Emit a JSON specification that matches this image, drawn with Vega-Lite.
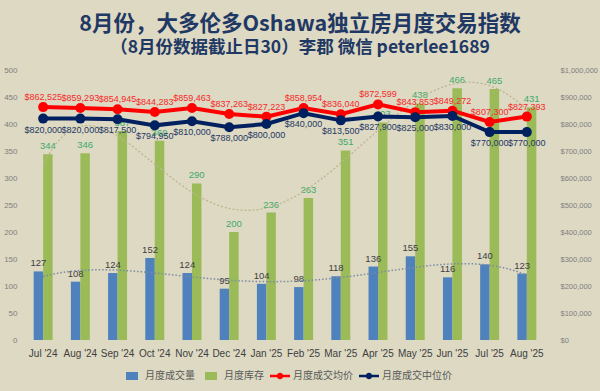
{
  "$schema": "https://vega.github.io/schema/vega-lite/v6.json",
  "width": 522,
  "height": 270,
  "autosize": {"type": "none"},
  "padding": {"left": 24, "top": 70, "right": 54, "bottom": 51},
  "background": "#DDD9C3",
  "title": {
    "text": "8月份，大多伦多Oshawa独立房月度交易指数",
    "subtitle": "（8月份数据截止日30）李郡 微信 peterlee1689",
    "anchor": "middle",
    "dx": 15,
    "offset": 10,
    "font": "Noto Sans CJK SC",
    "fontSize": 21.5,
    "fontWeight": "bold",
    "color": "#1F3864",
    "subtitleFont": "Noto Sans CJK SC",
    "subtitleFontSize": 17.5,
    "subtitleFontWeight": "bold",
    "subtitleColor": "#1F3864",
    "subtitlePadding": 3
  },
  "config": {
    "view": {"stroke": null},
    "axis": {"grid": false, "domain": false, "ticks": false, "title": null, "labelOverlap": false}
  },
  "data": {
    "values": [
      {"month": "Jul '24", "i": 0, "sales": 127, "inventory": 344, "avg": 862525, "median": 820000},
      {"month": "Aug '24", "i": 1, "sales": 108, "inventory": 346, "avg": 859293, "median": 820000},
      {"month": "Sep '24", "i": 2, "sales": 124, "inventory": 387, "avg": 854945, "median": 817500},
      {"month": "Oct '24", "i": 3, "sales": 152, "inventory": 369, "avg": 844283, "median": 794950},
      {"month": "Nov '24", "i": 4, "sales": 124, "inventory": 290, "avg": 859463, "median": 810000},
      {"month": "Dec '24", "i": 5, "sales": 95, "inventory": 200, "avg": 837263, "median": 788000},
      {"month": "Jan '25", "i": 6, "sales": 104, "inventory": 236, "avg": 827223, "median": 800000},
      {"month": "Feb '25", "i": 7, "sales": 98, "inventory": 263, "avg": 858954, "median": 840000},
      {"month": "Mar '25", "i": 8, "sales": 118, "inventory": 351, "avg": 836040, "median": 813500},
      {"month": "Apr '25", "i": 9, "sales": 136, "inventory": 403, "avg": 872599, "median": 827900},
      {"month": "May '25", "i": 10, "sales": 155, "inventory": 438, "avg": 843853, "median": 825000},
      {"month": "Jun '25", "i": 11, "sales": 116, "inventory": 466, "avg": 849272, "median": 830000},
      {"month": "Jul '25", "i": 12, "sales": 140, "inventory": 465, "avg": 807300, "median": 770000},
      {"month": "Aug '25", "i": 13, "sales": 123, "inventory": 431, "avg": 827393, "median": 770000}
    ]
  },
  "resolve": {"scale": {"x": "independent", "y": "independent"}},
  "layer": [
    {
      "transform": [{"fold": ["sales", "inventory"], "as": ["key", "value"]}],
      "encoding": {
        "x": {
          "field": "month", "type": "nominal", "sort": null,
          "scale": {"type": "band", "paddingInner": 0.49, "paddingOuter": 0.26},
          "axis": {"labelAngle": 0, "labelFont": "Liberation Sans", "labelFontSize": 10, "labelColor": "#404040", "labelPadding": 8}
        },
        "xOffset": {"field": "key", "type": "nominal", "sort": ["sales", "inventory"], "scale": {"paddingInner": 0, "paddingOuter": 0}},
        "y": {
          "field": "value", "type": "quantitative",
          "scale": {"domain": [0, 500], "nice": false},
          "axis": {"values": [0, 50, 100, 150, 200, 250, 300, 350, 400, 450, 500], "labelFont": "Liberation Sans", "labelFontSize": 8, "labelColor": "#7F7F7F", "labelPadding": 7}
        }
      },
      "layer": [
        {
          "mark": {"type": "bar"},
          "encoding": {
            "color": {
              "field": "key", "type": "nominal",
              "scale": {"domain": ["sales", "inventory", "avg", "median"], "range": ["#4F81BD", "#9BBB59", "#FF0000", "#002060"]},
              "legend": {
                "title": null, "orient": "none", "legendX": 98, "legendY": 296, "direction": "horizontal", "columns": 4,
                "symbolSize": 400, "labelFont": "Noto Sans CJK SC", "labelFontSize": 10, "labelColor": "#595959",
                "columnPadding": 6, "labelOffset": 3,
                "labelExpr": "datum.label === 'sales' ? '月度成交量' : datum.label === 'inventory' ? '月度库存' : datum.label === 'avg' ? '月度成交均价' : '月度成交中位价'",
                "encode": {"symbols": {"update": {
                  "shape": {"signal": "datum.value === 'avg' || datum.value === 'median' ? 'M-1,-0.13H1V0.13H-1Z M-0.33,0A0.33,0.33 0 1 1 0.33,0A0.33,0.33 0 1 1 -0.33,0Z' : 'M-0.6,-0.4H0.6V0.4H-0.6Z'"},
                  "fill": {"signal": "scale('color', datum.value)"},
                  "strokeWidth": {"value": 0},
                  "opacity": {"value": 1}
                }}}
              }
            }
          }
        },
        {
          "mark": {"type": "text", "dy": -8, "font": "Liberation Sans", "fontSize": 9.5, "baseline": "middle"},
          "encoding": {
            "text": {"field": "value", "type": "quantitative"},
            "color": {"condition": {"test": "datum.key === 'sales'", "value": "#404040"}, "value": "#3DAA6A"}
          }
        }
      ]
    },
    {
      "encoding": {
        "x": {"field": "i", "type": "quantitative", "scale": {"domain": [-0.5155, 13.5145], "nice": false, "zero": false}, "axis": null}
      },
      "layer": [
        {
          "transform": [{"regression": "inventory", "on": "i", "method": "poly", "order": 5}],
          "mark": {"type": "line", "strokeDash": [2, 2], "color": "#BDB68C", "strokeWidth": 1.3},
          "encoding": {"y": {"field": "inventory", "type": "quantitative", "scale": {"domain": [0, 500], "nice": false}, "axis": null}}
        },
        {
          "transform": [{"regression": "sales", "on": "i", "method": "poly", "order": 5}],
          "mark": {"type": "line", "strokeDash": [1.5, 2], "color": "#7A8BA3", "strokeWidth": 1.5},
          "encoding": {"y": {"field": "sales", "type": "quantitative", "scale": {"domain": [0, 500], "nice": false}, "axis": null}}
        }
      ]
    },
    {
      "encoding": {
        "x": {
          "field": "month", "type": "nominal", "sort": null,
          "scale": {"type": "band", "paddingInner": 0.49, "paddingOuter": 0.26},
          "axis": null
        }
      },
      "layer": [
        {
          "transform": [{"fold": ["avg", "median"], "as": ["key", "value"]}],
          "mark": {"type": "line", "strokeWidth": 4},
          "encoding": {
            "y": {
              "field": "value", "type": "quantitative",
              "scale": {"domain": [0, 1000000], "nice": false},
              "axis": {"orient": "right", "values": [0, 100000, 200000, 300000, 400000, 500000, 600000, 700000, 800000, 900000, 1000000], "format": "$,.0f", "labelFont": "Liberation Sans", "labelFontSize": 7.5, "labelColor": "#7F7F7F", "labelPadding": 14, "labelOverlap": false}
            },
            "color": {
              "field": "key", "type": "nominal",
              "scale": {"domain": ["sales", "inventory", "avg", "median"], "range": ["#4F81BD", "#9BBB59", "#FF0000", "#002060"]},
              "legend": {
                "title": null, "orient": "none", "legendX": 98, "legendY": 296, "direction": "horizontal", "columns": 4,
                "symbolSize": 400, "labelFont": "Noto Sans CJK SC", "labelFontSize": 10, "labelColor": "#595959",
                "columnPadding": 6, "labelOffset": 3,
                "labelExpr": "datum.label === 'sales' ? '月度成交量' : datum.label === 'inventory' ? '月度库存' : datum.label === 'avg' ? '月度成交均价' : '月度成交中位价'",
                "encode": {"symbols": {"update": {
                  "shape": {"signal": "datum.value === 'avg' || datum.value === 'median' ? 'M-1,-0.13H1V0.13H-1Z M-0.33,0A0.33,0.33 0 1 1 0.33,0A0.33,0.33 0 1 1 -0.33,0Z' : 'M-0.6,-0.4H0.6V0.4H-0.6Z'"},
                  "fill": {"signal": "scale('color', datum.value)"},
                  "strokeWidth": {"value": 0},
                  "opacity": {"value": 1}
                }}}
              }
            }
          }
        },
        {
          "transform": [{"fold": ["avg", "median"], "as": ["key", "value"]}],
          "mark": {"type": "circle", "size": 100, "opacity": 1},
          "encoding": {
            "y": {
              "field": "value", "type": "quantitative",
              "axis": {"orient": "right", "values": [0, 100000, 200000, 300000, 400000, 500000, 600000, 700000, 800000, 900000, 1000000], "format": "$,.0f", "labelFont": "Liberation Sans", "labelFontSize": 7.5, "labelColor": "#7F7F7F", "labelPadding": 14, "labelOverlap": false}
            },
            "color": {
              "field": "key", "type": "nominal",
              "scale": {"domain": ["sales", "inventory", "avg", "median"], "range": ["#4F81BD", "#9BBB59", "#FF0000", "#002060"]},
              "legend": {
                "title": null, "orient": "none", "legendX": 98, "legendY": 296, "direction": "horizontal", "columns": 4,
                "symbolSize": 400, "labelFont": "Noto Sans CJK SC", "labelFontSize": 10, "labelColor": "#595959",
                "columnPadding": 6, "labelOffset": 3,
                "labelExpr": "datum.label === 'sales' ? '月度成交量' : datum.label === 'inventory' ? '月度库存' : datum.label === 'avg' ? '月度成交均价' : '月度成交中位价'",
                "encode": {"symbols": {"update": {
                  "shape": {"signal": "datum.value === 'avg' || datum.value === 'median' ? 'M-1,-0.13H1V0.13H-1Z M-0.33,0A0.33,0.33 0 1 1 0.33,0A0.33,0.33 0 1 1 -0.33,0Z' : 'M-0.6,-0.4H0.6V0.4H-0.6Z'"},
                  "fill": {"signal": "scale('color', datum.value)"},
                  "strokeWidth": {"value": 0},
                  "opacity": {"value": 1}
                }}}
              }
            }
          }
        },
        {
          "mark": {"type": "text", "dy": -10, "font": "Liberation Sans", "fontSize": 9, "baseline": "middle", "color": "#F52A2A"},
          "encoding": {
            "y": {
              "field": "avg", "type": "quantitative",
              "axis": {"orient": "right", "values": [0, 100000, 200000, 300000, 400000, 500000, 600000, 700000, 800000, 900000, 1000000], "format": "$,.0f", "labelFont": "Liberation Sans", "labelFontSize": 7.5, "labelColor": "#7F7F7F", "labelPadding": 14, "labelOverlap": false}
            },
            "text": {"field": "avg", "type": "quantitative", "format": "$,.0f"}
          }
        },
        {
          "mark": {"type": "text", "dy": 11, "font": "Liberation Sans", "fontSize": 9, "baseline": "middle", "color": "#1F3864"},
          "encoding": {
            "y": {
              "field": "median", "type": "quantitative",
              "axis": {"orient": "right", "values": [0, 100000, 200000, 300000, 400000, 500000, 600000, 700000, 800000, 900000, 1000000], "format": "$,.0f", "labelFont": "Liberation Sans", "labelFontSize": 7.5, "labelColor": "#7F7F7F", "labelPadding": 14, "labelOverlap": false}
            },
            "text": {"field": "median", "type": "quantitative", "format": "$,.0f"}
          }
        }
      ]
    }
  ]
}
